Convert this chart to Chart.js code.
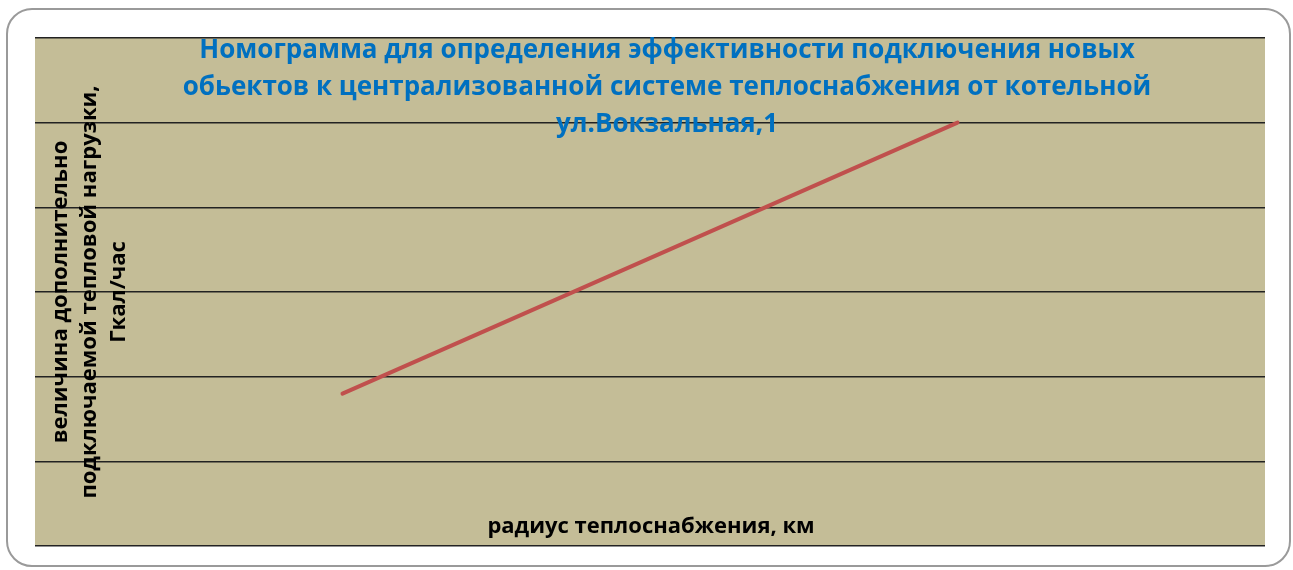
<!DOCTYPE html>
<html>
<head>
<meta charset="utf-8">
<script src="https://cdn.jsdelivr.net/npm/chart.js@4/dist/chart.umd.min.js"></script>
<style>
    body { margin: 0; background: #fff; }
    #wrap { position: relative; width: 1293px; height: 570px; }
    #frame {
        position: absolute; left: 6px; top: 8px; width: 1281px; height: 555px;
        border: 2px solid #9a9a9a; border-radius: 26px;
    }
    #nomogram { position: absolute; left: 0; top: 0; }
</style>
</head>
<body>
<div id="wrap">
    <div id="frame"></div>
    <canvas id="nomogram" width="1293" height="570"></canvas>
</div>
<script>
// радиус теплоснабжения, км
const radiusKm = [2.5, 7.5];
// величина подключаемой нагрузки, Гкал/час
const loadGcal = [1.8, 5];
const yTicks = [0, 1, 2, 3, 4, 5, 6];

const titleLines = [
    'Номограмма для определения эффективности подключения новых',
    'обьектов к централизованной системе теплоснабжения от котельной',
    'ул.Вокзальная,1'
];
const yTitleLines = ['величина дополнительно', 'подключаемой тепловой нагрузки,', 'Гкал/час'];
const xTitle = 'радиус теплоснабжения, км';

const points = radiusKm.map((x, i) => ({ x: x, y: loadGcal[i] }));

const plotBackground = {
    id: 'plotBackground',
    beforeDraw(chart) {
        const a = chart.chartArea;
        const ctx = chart.ctx;
        ctx.save();
        ctx.fillStyle = '#c4bd97';
        ctx.fillRect(a.left, a.top, a.right - a.left, a.bottom - a.top);
        ctx.restore();
    }
};

// titles sit inside the plot area in the original, so they are drawn over it
const overlayTitles = {
    id: 'overlayTitles',
    afterDraw(chart) {
        const ctx = chart.ctx;
        ctx.save();
        ctx.textAlign = 'center';
        ctx.textBaseline = 'middle';
        ctx.fillStyle = '#0070c0';
        ctx.font = 'bold 26px "Open Sans"';
        titleLines.forEach((t, i) => ctx.fillText(t, 667, 51 + i * 37));

        ctx.fillStyle = '#000';
        ctx.font = 'bold 22px "Open Sans"';
        ctx.fillText(xTitle, 651, 527);

        ctx.translate(90, 292);
        ctx.rotate(-Math.PI / 2);
        yTitleLines.forEach((t, i) => ctx.fillText(t, 0, (i - 1) * 29));
        ctx.restore();
    }
};

const nomogram = new Chart(document.getElementById('nomogram'), {
    type: 'scatter',
    data: {
        datasets: [{
            data: points,
            showLine: true,
            borderColor: '#c0504d',
            borderWidth: 4,
            borderCapStyle: 'round',
            pointRadius: 0
        }]
    },
    options: {
        responsive: false,
        animation: false,
        layout: {
            padding: { left: 35, right: 28, top: 38, bottom: 24 }
        },
        scales: {
            x: {
                type: 'linear',
                display: false,
                min: 0,
                max: 10
            },
            y: {
                min: 0,
                max: 6,
                afterBuildTicks: (axis) => { axis.ticks = yTicks.map(v => ({ value: v })); },
                grid: { color: '#222', lineWidth: 1.5, drawTicks: false },
                border: { display: false },
                ticks: { display: false }
            }
        },
        plugins: {
            legend: { display: false },
            tooltip: { enabled: false }
        }
    },
    plugins: [plotBackground, overlayTitles]
});
</script>
</body>
</html>
